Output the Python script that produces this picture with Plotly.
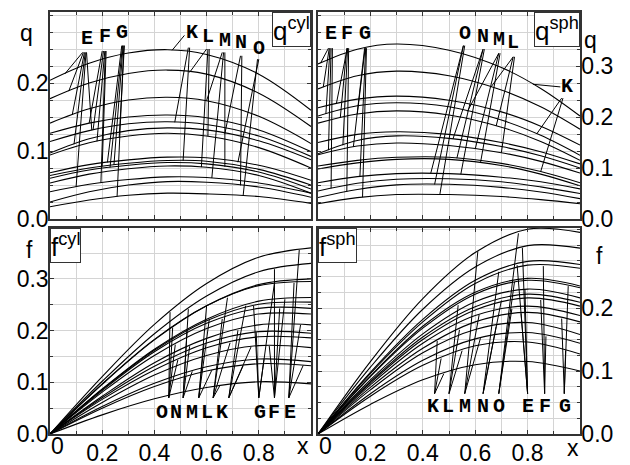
import numpy as np
import plotly.graph_objects as go

W, H = 630, 465

# ---------------- q, cylindrical ----------------
qcyl_x = [0, 0.15, 0.3, 0.45, 0.6, 0.8, 1.0]
qcyl = [
    [.204, .229, .244, .249, .242, .213, .160],
    [.177, .200, .214, .219, .213, .185, .136],
    [.141, .162, .175, .179, .174, .151, .111],
    [.126, .141, .150, .153, .149, .131, .099],
    [.114, .130, .140, .143, .139, .122, .092],
    [.097, .118, .130, .134, .131, .115, .087],
    [.094, .112, .122, .126, .122, .105, .075],
    [.068, .080, .087, .091, .090, .079, .057],
    [.064, .075, .082, .086, .085, .073, .050],
    [.060, .072, .079, .083, .081, .069, .044],
    [.053, .066, .074, .078, .076, .064, .038],
    [.040, .051, .058, .062, .061, .053, .038],
    [.025, .040, .050, .055, .054, .047, .032],
    [.018, .028, .035, .038, .037, .033, .023],
]
qcyl_labels = {"E": (.143, .265), "F": (.21, .268), "G": (.275, .274),
               "K": (.543, .274), "L": (.604, .268), "M": (.669, .263),
               "N": (.73, .259), "O": (.80, .251)}
# leader lines: (start x, start y, end x on curve, curve index)
qcyl_leaders = [
    (.125, .245, .057, 0), (.128, .245, .072, 1), (.132, .245, .085, 2),
    (.135, .245, .092, 5), (.138, .245, .100, 11), (.140, .245, .160, 4),
    (.200, .247, .150, 3), (.205, .247, .165, 4), (.210, .247, .180, 6),
    (.212, .247, .195, 11), (.215, .247, .200, 8),
    (.275, .255, .220, 7), (.278, .255, .230, 9), (.280, .255, .245, 8),
    (.283, .255, .257, 13), (.285, .255, .265, 6),
    (.515, .270, .468, 0), (.530, .252, .478, 4), (.535, .252, .510, 8),
    (.600, .250, .535, 1), (.610, .250, .605, 6), (.605, .250, .580, 10),
    (.660, .245, .600, 2), (.670, .245, .670, 9), (.665, .245, .620, 11),
    (.730, .240, .670, 5), (.735, .240, .730, 12),
    (.800, .235, .720, 7), (.795, .235, .740, 13),
]

# ---------------- q, spherical ----------------
qsph_x = [0, 0.15, 0.3, 0.5, 0.7, 0.85, 1.0]
qsph = [
    [.304, .333, .343, .331, .297, .256, .202],
    [.255, .281, .290, .281, .253, .220, .176],
    [.218, .235, .241, .233, .210, .182, .145],
    [.202, .222, .228, .220, .194, .164, .125],
    [.188, .206, .212, .204, .180, .152, .115],
    [.150, .166, .171, .166, .150, .132, .108],
    [.128, .154, .163, .158, .142, .124, .100],
    [.126, .143, .149, .144, .130, .113, .090],
    [.104, .115, .121, .121, .109, .093, .071],
    [.098, .110, .117, .117, .105, .088, .065],
    [.071, .083, .089, .089, .082, .073, .059],
    [.055, .070, .078, .079, .073, .063, .050],
    [.042, .058, .067, .068, .062, .053, .040],
    [.030, .042, .048, .048, .044, .038, .030],
]
qsph_labels = {"E": (.05, .364), "F": (.11, .364), "G": (.18, .364),
               "O": (.56, .364), "N": (.63, .357), "M": (.69, .351),
               "L": (.745, .347), "K": (.95, .259)}
qsph_leaders = [
    (.040, .335, .010, 0), (.043, .335, .020, 1), (.046, .335, .030, 3),
    (.050, .335, .040, 6), (.055, .335, .050, 11),
    (.112, .335, .070, 2), (.110, .335, .085, 4), (.113, .335, .095, 6),
    (.117, .335, .110, 12),
    (.178, .335, .135, 7), (.180, .335, .150, 4), (.182, .335, .160, 10),
    (.185, .335, .170, 13),
    (.555, .340, .430, 10), (.555, .340, .445, 12), (.560, .340, .465, 13),
    (.630, .333, .515, 6), (.630, .333, .530, 8), (.635, .333, .545, 10),
    (.690, .325, .570, 3), (.690, .325, .600, 7), (.695, .325, .620, 9),
    (.745, .318, .660, 1), (.745, .318, .680, 4), (.750, .318, .700, 7),
    (.925, .259, .820, 0), (.930, .237, .835, 3), (.935, .237, .850, 8),
]

# ---------------- f, cylindrical ----------------
fcyl_x = [0, 0.2, 0.4, 0.6, 0.8, 1.0]
fcyl = [
    [0, .111, .212, .291, .342, .360],
    [0, .102, .194, .267, .314, .330],
    [0, .096, .182, .248, .289, .300],
    [0, .097, .183, .248, .287, .295],
    [0, .087, .164, .222, .257, .264],
    [0, .086, .162, .219, .251, .255],
    [0, .084, .159, .214, .243, .243],
    [0, .081, .152, .204, .232, .232],
    [0, .073, .138, .185, .211, .211],
    [0, .070, .131, .176, .198, .195],
    [0, .067, .124, .167, .188, .186],
    [0, .061, .114, .152, .171, .167],
    [0, .053, .098, .130, .145, .140],
    [0, .050, .092, .122, .136, .132],
    [0, .037, .068, .090, .101, .097],
]
fcyl_labels = {"O": (.43, .042), "N": (.484, .042), "M": (.545, .042),
               "L": (.602, .042), "K": (.66, .042), "G": (.803, .042),
               "F": (.857, .042), "E": (.918, .042)}
fcyl_leaders = [
    (.455, .070, .460, 0), (.455, .070, .470, 3), (.455, .070, .480, 7), (.455, .070, .490, 10),
    (.510, .070, .530, 1), (.510, .070, .525, 4), (.510, .070, .535, 8), (.510, .070, .545, 12),
    (.570, .070, .600, 2), (.570, .070, .610, 5), (.570, .070, .590, 9), (.570, .070, .620, 13),
    (.625, .070, .680, 3), (.625, .070, .660, 6), (.625, .070, .690, 10), (.625, .070, .650, 14),
    (.685, .070, .750, 4), (.685, .070, .720, 8), (.685, .070, .770, 11), (.685, .070, .740, 13),
    (.800, .070, .780, 5), (.800, .070, .790, 9), (.800, .070, .860, 2), (.800, .070, .820, 12),
    (.860, .070, .860, 1), (.860, .070, .880, 6), (.860, .070, .840, 11), (.860, .070, .900, 4),
    (.915, .070, .955, 0), (.915, .070, .935, 3), (.915, .070, .960, 8), (.915, .070, .970, 13),
]

# ---------------- f, spherical ----------------
fsph_x = [0, 0.2, 0.4, 0.6, 0.8, 1.0]
fsph = [
    [0, .115, .215, .288, .325, .320],
    [0, .106, .198, .265, .299, .295],
    [0, .098, .182, .244, .274, .269],
    [0, .096, .178, .239, .268, .263],
    [0, .092, .171, .225, .247, .235],
    [0, .091, .168, .222, .244, .232],
    [0, .086, .159, .210, .230, .216],
    [0, .083, .154, .202, .222, .209],
    [0, .081, .150, .197, .216, .203],
    [0, .078, .144, .188, .203, .188],
    [0, .074, .136, .178, .193, .178],
    [0, .070, .129, .166, .177, .158],
    [0, .064, .117, .151, .161, .144],
    [0, .060, .109, .140, .146, .127],
    [0, .047, .086, .110, .115, .100],
]
fsph_labels = {"K": (.44, .044), "L": (.497, .044), "M": (.56, .044),
               "N": (.63, .044), "O": (.69, .044), "E": (.80, .044),
               "F": (.866, .044), "G": (.943, .044)}
fsph_leaders = [
    (.445, .064, .455, 10), (.445, .064, .470, 13), (.445, .064, .480, 14),
    (.500, .064, .535, 5), (.500, .064, .540, 10), (.500, .064, .550, 13),
    (.560, .064, .610, 0), (.560, .064, .615, 9), (.560, .064, .620, 12),
    (.630, .064, .690, 2), (.630, .064, .700, 7), (.630, .064, .680, 11),
    (.690, .064, .765, 0), (.690, .064, .750, 4), (.690, .064, .740, 9),
    (.800, .064, .760, 2), (.800, .064, .780, 1), (.800, .064, .790, 6), (.800, .064, .775, 10),
    (.865, .064, .860, 3), (.865, .064, .850, 8), (.865, .064, .870, 12),
    (.940, .064, .955, 5), (.940, .064, .930, 10), (.940, .064, .945, 13),
]

panels = [
    # xs, curves, labels, leaders, axis suffix
    (qcyl_x, qcyl, qcyl_labels, qcyl_leaders, ""),
    (qsph_x, qsph, qsph_labels, qsph_leaders, "2"),
    (fcyl_x, fcyl, fcyl_labels, fcyl_leaders, "3"),
    (fsph_x, fsph, fsph_labels, fsph_leaders, "4"),
]

fig = go.Figure()
annotations = []
letter_font = dict(family="Liberation Mono, DejaVu Sans Mono, monospace", size=20,
                   color="black", weight="bold")

for xs, curves, labels, leaders, s in panels:
    xa, ya = "x" + s, "y" + s
    for ys in curves:
        fig.add_trace(go.Scatter(x=xs, y=ys, mode="lines", xaxis=xa, yaxis=ya,
                                 line=dict(color="black", width=1.1, shape="spline"),
                                 hoverinfo="skip", showlegend=False))
    lx, ly = [], []
    for ox, oy, tx, ci in leaders:
        ty = float(np.interp(tx, xs, curves[ci]))
        lx += [ox, tx, None]
        ly += [oy, ty, None]
    fig.add_trace(go.Scatter(x=lx, y=ly, mode="lines", xaxis=xa, yaxis=ya,
                             line=dict(color="black", width=1),
                             hoverinfo="skip", showlegend=False))
    for name, (tx, ty) in labels.items():
        annotations.append(dict(x=tx, y=ty, xref=xa, yref=ya, text=name,
                                xanchor="center", yanchor="middle",
                                showarrow=False, font=letter_font))

# panel name boxes
box_font = dict(family="Liberation Sans, Arial", size=26, color="black")
for s, txt, xanchor, xpos in [("", "q<sup>cyl</sup>", "right", 1),
                              ("2", "q<sup>sph</sup>", "right", 1),
                              ("3", "f<sup>cyl</sup>", "left", 0),
                              ("4", "f<sup>sph</sup>", "left", 0)]:
    annotations.append(dict(x=xpos, y=1, xref=f"x{s} domain", yref=f"y{s} domain",
                            xanchor=xanchor, yanchor="top", text=txt, showarrow=False,
                            font=box_font, bgcolor="white", bordercolor="#333",
                            borderwidth=1, borderpad=0))

# axis symbols and the x-axis origin label
sym_font = dict(family="Liberation Sans, Arial", size=23, color="black")
for txt, px, py in [("q", 26, 33), ("q", 590, 40), ("f", 29, 250), ("f", 599, 256),
                    ("x", 303, 446), ("x", 573, 448), ("0", 57, 446), ("0", 325, 446)]:
    annotations.append(dict(x=px / W, y=1 - py / H, xref="paper", yref="paper",
                            xanchor="center", yanchor="middle",
                            text=txt, showarrow=False, font=sym_font))

tick_font = dict(family="Liberation Sans, Arial", size=23, color="black")
frame = dict(showline=True, linecolor="#333", linewidth=1.5, mirror="ticks",
             ticks="inside", ticklen=4, tickcolor="#333", zeroline=False,
             showgrid=True, gridcolor="#d4d4d4", gridwidth=1, tickfont=tick_font,
             automargin=False)

xl = [50 / W, 311 / W]
xr = [318 / W, 580 / W]
yt = [1 - 219 / H, 1 - 12 / H]
yb = [1 - 434 / H, 1 - 228 / H]

xtick_vals = [0.2, 0.4, 0.6, 0.8]
xtick_text = ["0.2", "0.4", "0.6", "0.8"]
xminor = dict(dtick=0.1, showgrid=True, gridcolor="#d4d4d4", ticks="inside",
              ticklen=3, tickcolor="#333")


def yminor(step):
    return dict(dtick=step, showgrid=True, gridcolor="#d4d4d4",
                ticks="inside", ticklen=3, tickcolor="#333")


fig.update_layout(
    width=W, height=H, margin=dict(l=0, r=0, t=0, b=0, autoexpand=False),
    paper_bgcolor="white", plot_bgcolor="white",
    annotations=annotations,
    xaxis=dict(domain=xl, range=[0, 1], anchor="y", tickvals=xtick_vals,
               showticklabels=False, minor=xminor, **frame),
    xaxis2=dict(domain=xr, range=[0, 1], anchor="y2", tickvals=xtick_vals,
                showticklabels=False, minor=xminor, **frame),
    xaxis3=dict(domain=xl, range=[0, 1], anchor="y3", tickvals=xtick_vals,
                ticktext=xtick_text, minor=xminor, ticklabelstandoff=-2, **frame),
    xaxis4=dict(domain=xr, range=[0, 1], anchor="y4", tickvals=xtick_vals,
                ticktext=xtick_text, minor=xminor, ticklabelstandoff=-2, **frame),
    yaxis=dict(domain=yt, range=[0, 207 / 680], anchor="x", tickvals=[0, .1, .2],
               tickformat=".1f", minor=yminor(0.025), ticklabelstandoff=-5, **frame),
    yaxis2=dict(domain=yt, range=[0, 207 / 510], anchor="x2", side="right",
                tickvals=[0, .1, .2, .3], tickformat=".1f", minor=yminor(0.1 / 3),
                ticklabelstandoff=-5, **frame),
    yaxis3=dict(domain=yb, range=[0, 206 / 517], anchor="x3",
                tickvals=[0, .1, .2, .3], tickformat=".1f", minor=yminor(0.05),
                ticklabelstandoff=-5, **frame),
    yaxis4=dict(domain=yb, range=[0, 206 / 630], anchor="x4", side="right",
                tickvals=[0, .1, .2], tickformat=".1f", minor=yminor(0.025),
                ticklabelstandoff=-5, **frame),
)

fig.write_html("out.html")
